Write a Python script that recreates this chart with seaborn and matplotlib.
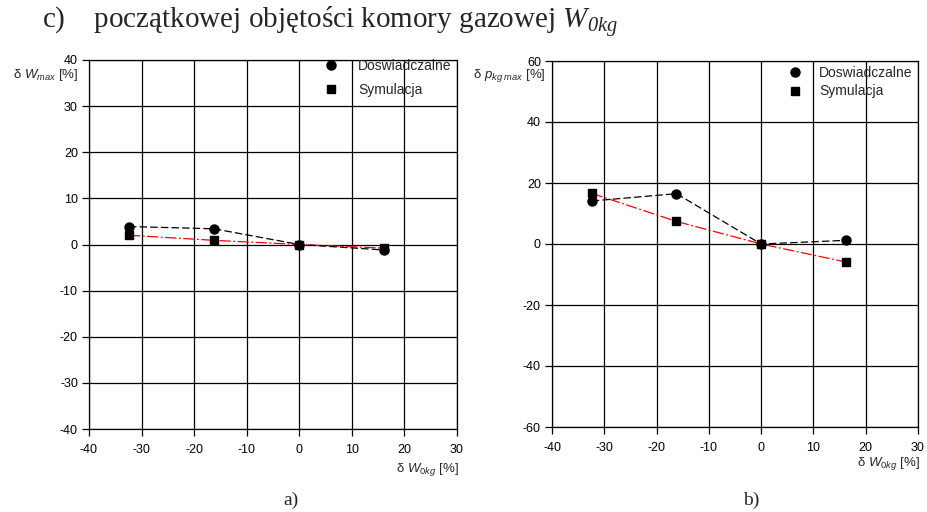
import numpy as np
import pandas as pd
import matplotlib
matplotlib.use("Agg")
import matplotlib.pyplot as plt
import seaborn as sns

# data
x_vals = [-32.4, -16.2, 0.0, 16.2]
left_exp = [3.9, 3.4, 0.0, -1.2]
left_sim = [2.0, 0.9, 0.0, -0.8]
right_exp = [14.1, 16.5, 0.0, 1.2]
right_sim = [16.6, 7.4, 0.0, -5.9]
x_ticks = [-40, -30, -20, -10, 0, 10, 20, 30]
left_yticks = [-40, -30, -20, -10, 0, 10, 20, 30, 40]
right_yticks = [-60, -40, -20, 0, 20, 40, 60]
series_names = ["Doswiadczalne", "Symulacja"]

sns.set_style("white")
plt.rcParams['font.family'] = ['Liberation Sans', 'DejaVu Sans']
plt.rcParams['axes.unicode_minus'] = False
plt.rcParams['mathtext.fontset'] = 'custom'
plt.rcParams['mathtext.rm'] = 'Liberation Sans'
plt.rcParams['mathtext.it'] = 'Liberation Sans:italic'
plt.rcParams['mathtext.sf'] = 'Liberation Serif:italic'

W, H = 928, 512
fig = plt.figure(figsize=(W/100, H/100), dpi=100)
axL = fig.add_axes([89/W, 1-429/H, (457-89)/W, (429-60)/H])
axR = fig.add_axes([552/W, 1-427/H, (918-552)/W, (427-61)/H])

def draw(ax, exp, sim, yticks, leg_xy, spacing, tpad):
    df = pd.DataFrame({"x": x_vals + x_vals,
                       "y": exp + sim,
                       "s": [series_names[0]]*4 + [series_names[1]]*4})
    d1 = df[df.s == series_names[0]]
    d2 = df[df.s == series_names[1]]
    sns.lineplot(data=d2, x="x", y="y", ax=ax, color="red", lw=0.9,
                 linestyle=(0, (9, 2, 1.5, 2)), label="_nolegend_", zorder=3)
    sns.lineplot(data=d1, x="x", y="y", ax=ax, color="black", lw=0.9,
                 linestyle=(0, (6, 2.5)), label="_nolegend_", zorder=3)
    ax.plot(d1.x, d1.y, 'o', color='black', ms=6.5, ls='none', zorder=4,
            label=series_names[0])
    ax.plot(d2.x, d2.y, 's', color='black', ms=6.0, ls='none', zorder=5,
            label=series_names[1])
    ax.set_xlim(-40, 30)
    ax.set_ylim(yticks[0], yticks[-1])
    ax.set_xticks(x_ticks)
    ax.set_yticks(yticks)
    ax.grid(True, color='black', lw=0.9)
    for sp in ax.spines.values():
        sp.set_color('black')
        sp.set_linewidth(0.9)
    ax.tick_params(axis='both', direction='out', length=5, width=0.9,
                   colors='black', labelsize=9, left=True, bottom=True)
    ax.tick_params(axis='x', pad=6)
    ax.tick_params(axis='y', pad=3)
    ax.set_xlabel("")
    ax.set_ylabel("")
    leg = ax.legend(loc='upper left', bbox_to_anchor=(leg_xy[0]/W, 1-leg_xy[1]/H),
                    bbox_transform=fig.transFigure, frameon=False,
                    fontsize=10, handlelength=1.0, handletextpad=tpad,
                    labelspacing=spacing, borderaxespad=0, borderpad=0)
    return leg

draw(axL, left_exp, left_sim, left_yticks, (324, 59), 0.72, 1.45)
draw(axR, right_exp, right_sim, right_yticks, (788, 66), 0.32, 1.25)

fig.text(42/W, 1-28/H, r"c)    początkowej objętości komory gazowej $\mathsf{W}_{\mathsf{0kg}}$",
         fontsize=21, family='Liberation Serif', va='baseline', ha='left')

fig.text(78/W, 1-75/H, r"δ $W_{max}$ [%]", fontsize=9.5, ha='right', va='center')
fig.text(546/W, 1-76/H, r"δ $p_{kg\ max}$ [%]", fontsize=9.5, ha='right', va='center')
fig.text(459/W, 1-469/H, r"δ $W_{0kg}$ [%]", fontsize=9.5, ha='right', va='center')
fig.text(920/W, 1-464/H, r"δ $W_{0kg}$ [%]", fontsize=9.5, ha='right', va='center')

fig.text(291/W, 1-500/H, "a)", fontsize=14, family='Liberation Serif', ha='center', va='center')
fig.text(751/W, 1-500/H, "b)", fontsize=14, family='Liberation Serif', ha='center', va='center')

fig.savefig("out.png", dpi=100)
